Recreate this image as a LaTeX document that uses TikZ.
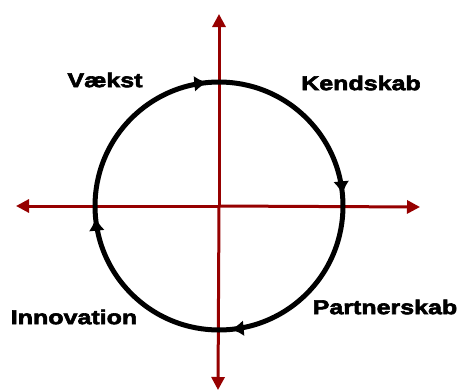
\documentclass[tikz,border=0pt]{standalone}
\usepackage{fontspec}
\newfontfamily\lblfont{Liberation Sans Bold}[FakeStretch=1.25,FakeBold=3]
\usetikzlibrary{arrows.meta,decorations.markings}

\begin{document}
\begin{tikzpicture}[
    x=1pt, y=-1pt,
    axis/.style={draw={rgb,255:red,150;green,0;blue,0}, line width=3pt, -{Triangle[length=13pt,width=13pt]}},
    cycle/.style={draw=black, line width=5pt,
      postaction={decorate},
      decoration={markings,
        mark=at position 0.11 with {\arrow{Latex[length=13pt,width=16pt]}},
        mark=at position 0.36 with {\arrow{Latex[length=13pt,width=16pt]}},
        mark=at position 0.61 with {\arrow{Latex[length=13pt,width=16pt]}},
        mark=at position 0.86 with {\arrow{Latex[length=13pt,width=16pt]}}}},
    label/.style={font={\lblfont\fontsize{20pt}{23pt}\selectfont}, inner sep=0pt}
]
\useasboundingbox (0,0) rectangle (460,391);

% Axes
\coordinate (c) at (219,206);
\coordinate (top) at (219,14);
\coordinate (bottom) at (218,390);
\coordinate (left) at (16,206);
\coordinate (right) at (420,207);
\draw[axis] (c) -- (top);
\draw[axis] (c) -- (bottom);
\draw[axis] (c) -- (left);
\draw[axis] (c) -- (right);

% Circle (y axis is flipped, so angles run the other way)
\draw[cycle] (c) ++(-135:124) arc[start angle=-135, end angle=225, radius=124] -- cycle;

% Labels
\node[label] (vaekst) at (105,80) {Vækst};
\node[label] (kendskab) at (361,83) {Kendskab};
\node[label] (partnerskab) at (385,307) {Partnerskab};
\node[label] (innovation) at (74,317) {Innovation};

\end{tikzpicture}
\end{document}
